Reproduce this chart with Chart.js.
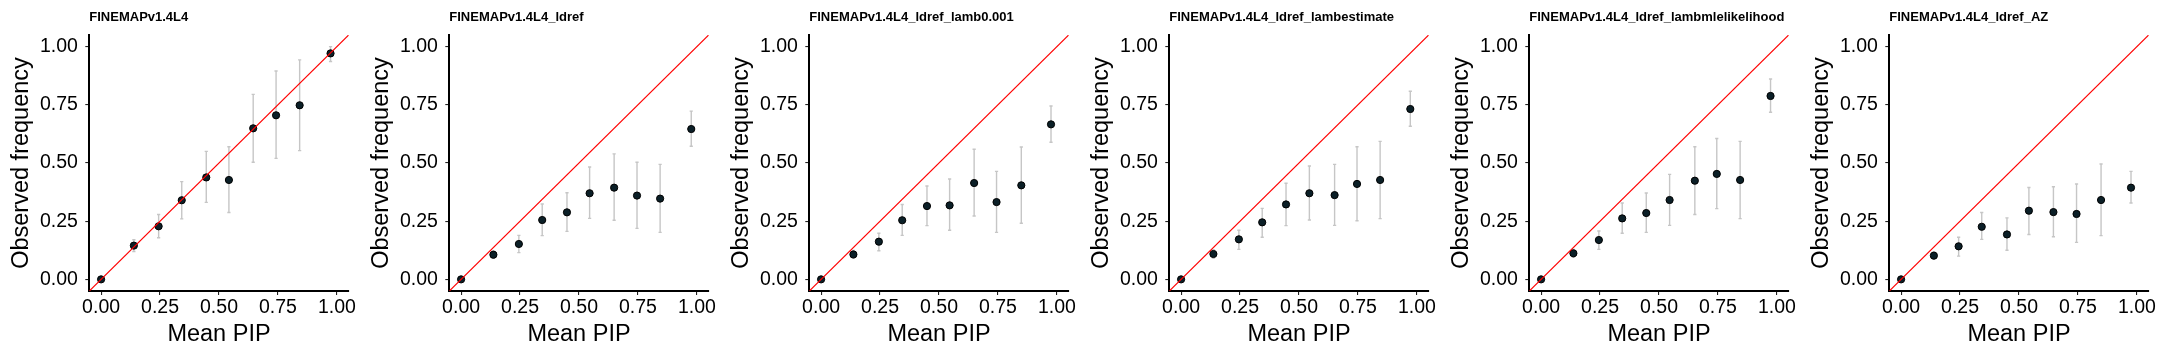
<!DOCTYPE html>
<html>
<head>
<meta charset="utf-8">
<script src="https://cdn.jsdelivr.net/npm/chart.js@4/dist/chart.umd.min.js"></script>
<style>
  body { margin: 0; background: #fff; }
  #row { display: flex; width: 2160px; height: 360px; }
  #row canvas { display: block; }
</style>
</head>
<body>
<div id="row"></div>
<script>
// panel titles and axis ticks
const titles = [
  "FINEMAPv1.4L4",
  "FINEMAPv1.4L4_ldref",
  "FINEMAPv1.4L4_ldref_lamb0.001",
  "FINEMAPv1.4L4_ldref_lambestimate",
  "FINEMAPv1.4L4_ldref_lambmlelikelihood",
  "FINEMAPv1.4L4_ldref_AZ"
];
const tickValues = [0, 0.25, 0.5, 0.75, 1];
const axisMin = -0.05;
const axisMax = 1.05;

// one set of arrays per panel: mean PIP, observed frequency, interval
const meanPip1 = [0, 0.139, 0.244, 0.342, 0.446, 0.542, 0.645, 0.742, 0.842, 0.973];
const observed1 = [0, 0.145, 0.228, 0.340, 0.438, 0.427, 0.649, 0.705, 0.748, 0.971];
const lower1 = [0, 0.120, 0.179, 0.260, 0.331, 0.287, 0.503, 0.520, 0.553, 0.936];
const upper1 = [0, 0.170, 0.279, 0.420, 0.550, 0.570, 0.795, 0.895, 0.943, 1.000];

const meanPip2 = [0, 0.137, 0.245, 0.344, 0.449, 0.545, 0.649, 0.746, 0.844, 0.976];
const observed2 = [0, 0.106, 0.152, 0.255, 0.288, 0.370, 0.394, 0.360, 0.347, 0.646];
const lower2 = [0, 0.090, 0.115, 0.188, 0.206, 0.262, 0.254, 0.219, 0.202, 0.572];
const upper2 = [0, 0.122, 0.189, 0.324, 0.372, 0.483, 0.539, 0.503, 0.494, 0.723];

const meanPip3 = [0, 0.137, 0.245, 0.344, 0.449, 0.545, 0.649, 0.744, 0.849, 0.975];
const observed3 = [0, 0.107, 0.162, 0.254, 0.315, 0.318, 0.414, 0.332, 0.404, 0.666];
const lower3 = [0, 0.090, 0.123, 0.189, 0.231, 0.211, 0.272, 0.202, 0.241, 0.589];
const upper3 = [0, 0.124, 0.198, 0.322, 0.401, 0.431, 0.559, 0.464, 0.569, 0.745];

const meanPip4 = [0, 0.137, 0.245, 0.344, 0.445, 0.544, 0.651, 0.746, 0.844, 0.972];
const observed4 = [0, 0.109, 0.172, 0.245, 0.322, 0.370, 0.362, 0.410, 0.427, 0.732];
const lower4 = [0, 0.092, 0.129, 0.181, 0.231, 0.255, 0.232, 0.252, 0.261, 0.658];
const upper4 = [0, 0.126, 0.211, 0.305, 0.413, 0.487, 0.494, 0.570, 0.593, 0.808];

const meanPip5 = [0, 0.137, 0.245, 0.344, 0.446, 0.545, 0.652, 0.745, 0.844, 0.973];
const observed5 = [0, 0.112, 0.169, 0.262, 0.285, 0.341, 0.424, 0.453, 0.427, 0.788];
const lower5 = [0, 0.095, 0.129, 0.198, 0.202, 0.232, 0.279, 0.304, 0.261, 0.718];
const upper5 = [0, 0.129, 0.208, 0.328, 0.371, 0.451, 0.570, 0.605, 0.593, 0.861];

const meanPip6 = [0, 0.139, 0.244, 0.342, 0.449, 0.542, 0.646, 0.744, 0.848, 0.975];
const observed6 = [0, 0.102, 0.142, 0.226, 0.193, 0.295, 0.289, 0.281, 0.341, 0.394];
const lower6 = [0, 0.086, 0.100, 0.172, 0.125, 0.193, 0.183, 0.159, 0.188, 0.328];
const upper6 = [0, 0.118, 0.181, 0.287, 0.264, 0.395, 0.398, 0.410, 0.496, 0.464];

const panels = [
  [meanPip1, observed1, lower1, upper1],
  [meanPip2, observed2, lower2, upper2],
  [meanPip3, observed3, lower3, upper3],
  [meanPip4, observed4, lower4, upper4],
  [meanPip5, observed5, lower5, upper5],
  [meanPip6, observed6, lower6, upper6]
];

const FONT = "'Liberation Sans', Arial, Helvetica, sans-serif";

// grey vertical interval bars, drawn under the points
const errorBarPlugin = {
  id: 'errorBars',
  beforeDatasetsDraw(chart) {
    const bars = chart.options.plugins.errorBars;
    const xs = chart.scales.x, ys = chart.scales.y;
    const ctx = chart.ctx;
    ctx.save();
    ctx.strokeStyle = '#c6c6c6';
    ctx.lineWidth = 1.4;
    for (let i = 0; i < bars.x.length; i++) {
      const px = xs.getPixelForValue(bars.x[i]);
      const lo = ys.getPixelForValue(bars.lo[i]);
      const hi = ys.getPixelForValue(bars.hi[i]);
      ctx.beginPath();
      ctx.moveTo(px, lo); ctx.lineTo(px, hi);
      ctx.moveTo(px - 1.6, lo); ctx.lineTo(px + 1.6, lo);
      ctx.moveTo(px - 1.6, hi); ctx.lineTo(px + 1.6, hi);
      ctx.stroke();
    }
    ctx.restore();
  }
};

// small bold title aligned with the left edge of the plot area
const panelTitlePlugin = {
  id: 'panelTitle',
  afterDraw(chart) {
    const ctx = chart.ctx;
    ctx.save();
    ctx.font = 'bold 13px ' + FONT;
    ctx.fillStyle = '#000';
    ctx.textAlign = 'left';
    ctx.textBaseline = 'middle';
    ctx.fillText(chart.options.plugins.panelTitle.text, chart.chartArea.left, 17);
    ctx.restore();
  }
};

function setTicks(scale) {
  scale.ticks = tickValues.map(v => ({ value: v }));
}

function makeAxis(title, isX) {
  return {
    type: 'linear',
    min: axisMin,
    max: axisMax,
    afterBuildTicks: setTicks,
    afterFit: isX ? (s) => { s.height = 69; } : (s) => { s.width = 89.3; },
    grid: { drawOnChartArea: false, drawTicks: true, tickLength: 4, color: '#222', lineWidth: 1.1 },
    border: { display: true, color: '#000', width: 2 },
    ticks: {
      color: '#000',
      font: { family: FONT, size: 19.5 },
      padding: isX ? 1 : 7.4,
      maxRotation: 0,
      autoSkip: false,
      callback: (v) => Number(v).toFixed(2)
    },
    title: {
      display: true,
      text: title,
      color: '#000',
      font: { family: FONT, size: 23.5 },
      padding: isX ? { top: 0, bottom: 11 } : { top: 7.6, bottom: 0 }
    }
  };
}

function makeChart(idx) {
  const [pip, obs, lo, hi] = panels[idx];
  const canvas = document.createElement('canvas');
  canvas.width = 360;
  canvas.height = 360;
  document.getElementById('row').appendChild(canvas);

  const points = pip.map((x, i) => ({ x: x, y: obs[i] }));
  const identity = [{ x: axisMin, y: axisMin }, { x: axisMax, y: axisMax }];

  new Chart(canvas.getContext('2d'), {
    type: 'scatter',
    data: {
      datasets: [{
        type: 'line',
        data: identity,
        borderColor: '#ff0000',
        borderWidth: 1.2,
        pointRadius: 0,
        fill: false,
        order: 0
      }, {
        data: points,
        backgroundColor: '#0b1f27',
        borderColor: '#000',
        borderWidth: 1,
        pointRadius: 3.6,
        order: 1
      }]
    },
    options: {
      responsive: false,
      animation: false,
      layout: { padding: { left: 0, right: 11.3, top: 35, bottom: 0 } },
      plugins: {
        legend: { display: false },
        tooltip: { enabled: false },
        errorBars: { x: pip, lo: lo, hi: hi },
        panelTitle: { text: titles[idx] }
      },
      scales: {
        x: makeAxis('Mean PIP', true),
        y: makeAxis('Observed frequency', false)
      }
    },
    plugins: [errorBarPlugin, panelTitlePlugin]
  });
}

for (let i = 0; i < panels.length; i++) {
  makeChart(i);
}
</script>
</body>
</html>
